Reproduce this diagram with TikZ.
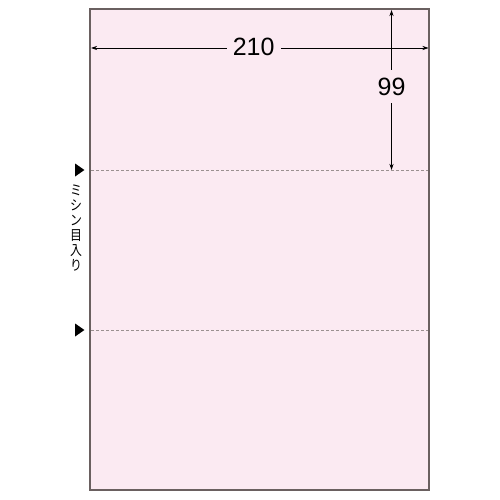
\documentclass[tikz,border=0pt]{standalone}
\usepackage{fontspec}
\setmainfont{Liberation Sans}
\newfontfamily\jpfont{Noto Sans CJK JP}
\usetikzlibrary{arrows.meta,shapes.geometric}
\definecolor{sheetfill}{HTML}{FBEAF2}
\definecolor{sheetline}{HTML}{6A6060}
\definecolor{perfline}{HTML}{9A9090}
\begin{document}
\begin{tikzpicture}[x=1pt,y=-1pt,
  sheetbox/.style={draw=sheetline,line width=1.3pt,fill=sheetfill,minimum width=339pt,minimum height=481pt,inner sep=0pt,outer sep=0pt},
  perf/.style={draw=perfline,line width=0.8pt,dash pattern=on 2.5pt off 2.5pt},
  dimline/.style={draw=black,line width=0.7pt,-{Stealth[length=6pt,width=4pt]}},
  dimlabel/.style={font=\fontsize{25}{25}\selectfont,inner sep=0pt},
  marker/.style={isosceles triangle,isosceles triangle apex angle=70,fill=black,inner sep=0pt,minimum height=9pt,minimum width=13pt,anchor=center},
  jptext/.style={font=\jpfont\fontsize{14}{15}\selectfont,align=center,inner sep=0pt,xscale=0.85}]
\useasboundingbox (0,0) rectangle (500,500);
\node[sheetbox] (sheet) at (259.5,249.5) {};
% perforations
\coordinate (p1l) at (91,170);
\coordinate (p1r) at (428,170);
\coordinate (p2l) at (91,330);
\coordinate (p2r) at (428,330);
\draw[perf] (p1l) -- (p1r);
\draw[perf] (p2l) -- (p2r);
% width dimension
\node[dimlabel,minimum width=54pt,minimum height=30pt] (w) at (253.7,47) {210};
\coordinate (wl) at (91,48);
\coordinate (wr) at (428.5,48);
\draw[dimline] (w.west |- wl) -- (wl);
\draw[dimline] (w.east |- wr) -- (wr);
% height dimension
\node[dimlabel,minimum width=36pt,minimum height=33pt] (h) at (391.5,86.5) {99};
\coordinate (ht) at (391.5,10);
\coordinate (hb) at (391.5,170);
\draw[dimline] (h.north -| ht) -- (ht);
\draw[dimline] (h.south -| hb) -- (hb);
% markers
\node[marker] (m1) at (78.5,170) {};
\node[marker] (m2) at (78.5,330) {};
\node[jptext] (jp) at (76,228) {ミ\\シ\\ン\\目\\入\\り};
\end{tikzpicture}
\end{document}
